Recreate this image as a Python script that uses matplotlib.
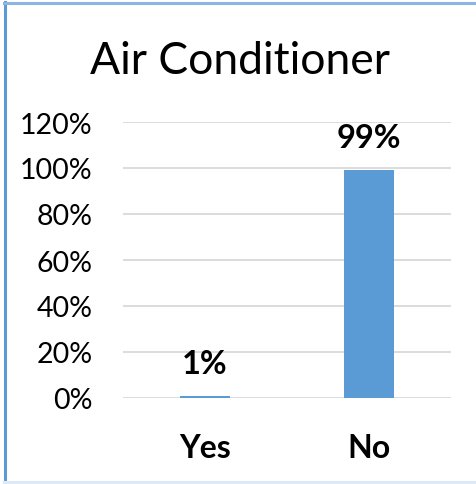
import matplotlib.pyplot as plt
from matplotlib.lines import Line2D

categories = ["Yes", "No"]
values = [0.01, 0.99]
value_labels = ["1%", "99%"]
tick_values = [0, 0.2, 0.4, 0.6, 0.8, 1.0, 1.2]
tick_labels = ["0%", "20%", "40%", "60%", "80%", "100%", "120%"]

W, H = 476, 485
plt.rcParams['font.family'] = ['Lato', 'DejaVu Sans']

fig = plt.figure(figsize=(W / 100, H / 100), dpi=100)
ax = fig.add_axes([123 / W, (H - 399) / H, 328 / W, 276 / H])

x = list(range(len(categories)))
ax.bar(x, values, width=0.31, color="#5b9bd5", zorder=3)
ax.set_xlim(-0.5, 1.5)
ax.set_ylim(0, 1.2)
ax.set_yticks(tick_values)
ax.set_yticklabels(tick_labels, fontsize=20.5)
ax.set_xticks(x)
ax.set_xticklabels(categories, fontsize=23, fontweight='bold')
ax.tick_params(axis='both', length=0)
ax.tick_params(axis='y', pad=22)
ax.tick_params(axis='x', pad=25)
ax.grid(axis='y', color="#d9d9d9", linewidth=1.3, zorder=0)
for s in ax.spines.values():
    s.set_visible(False)

# data labels, baseline ~23 px above the bar top
for xi, v, lab in zip(x, values, value_labels):
    ax.annotate(lab, (xi, v), xytext=(0, 16.5), textcoords='offset points',
                ha='center', va='baseline', fontsize=23.5, fontweight='bold')

fig.text(240 / W, 1 - 74 / H, "Air Conditioner", ha='center', va='baseline', fontsize=32)

# chart border
fig.add_artist(Line2D([5 / W, 5 / W], [0, 1 - 3 / H], transform=fig.transFigure,
                      color="#5b9bd5", linewidth=2.2))
fig.add_artist(Line2D([4 / W, 1], [1 - 4 / H, 1 - 4 / H], transform=fig.transFigure,
                      color="#8db4e2", linewidth=2.2))
fig.add_artist(Line2D([4 / W, 1], [2 / H, 2 / H], transform=fig.transFigure,
                      color="#dce9f6", linewidth=2.2))

fig.savefig("out.png", dpi=100)
